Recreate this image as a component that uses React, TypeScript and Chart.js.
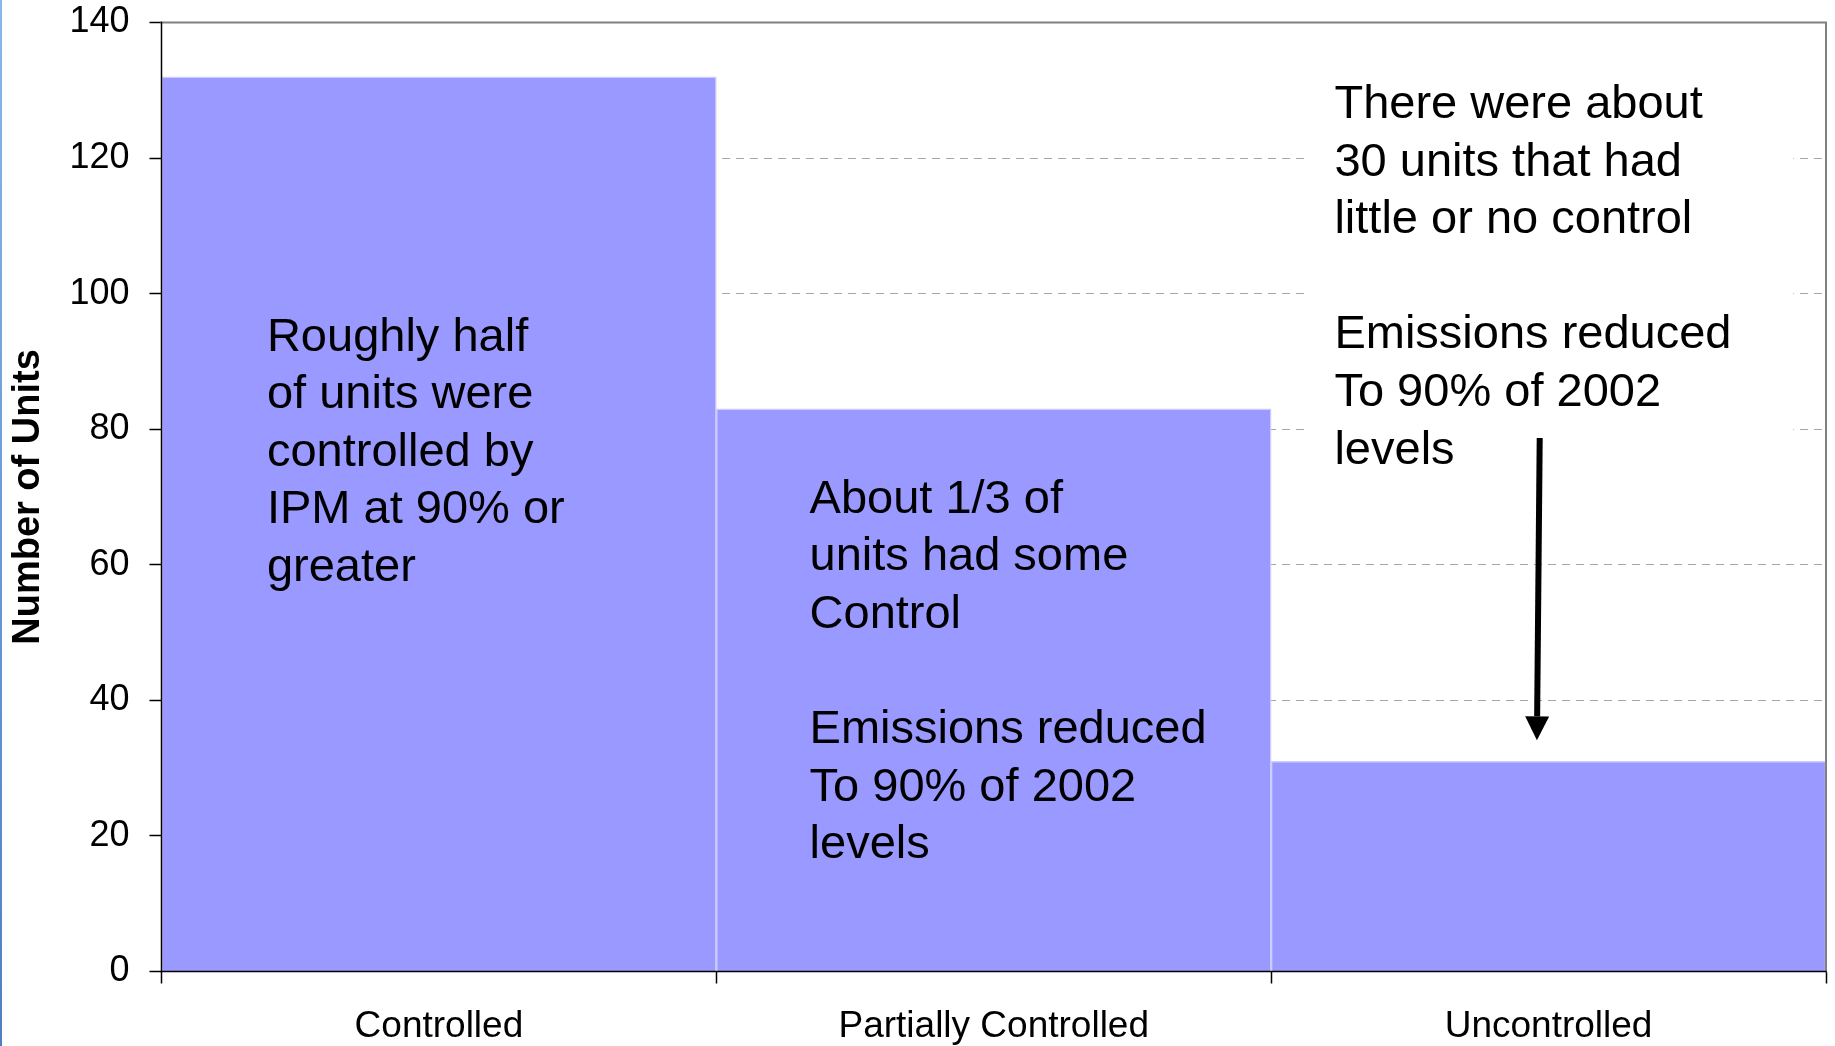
import React, { useEffect, useRef } from 'react';
import { Chart, registerables } from 'chart.js';

Chart.register(...registerables);

// ---- data ----
const categories = ['Controlled', 'Partially Controlled', 'Uncontrolled'];
const unitCounts = [132, 83, 31];
const yMin = 0;
const yMax = 140;
const yStep = 20;
const yAxisTitle = 'Number of Units';

const controlledNote = ['Roughly half', 'of units were', 'controlled by', 'IPM at 90% or', 'greater'];
const partialNote = ['About 1/3 of', 'units had some', 'Control', '', 'Emissions reduced', 'To 90% of 2002', 'levels'];
const uncontrolledNote = ['There were about', '30 units that had', 'little or no control', '', 'Emissions reduced', 'To 90% of 2002', 'levels'];

// Note placement: category index, fraction across the category, value of first baseline
const notes = [
  { cat: 0, frac: 0.19, firstBaseline: 91.6, lines: controlledNote, backing: null },
  { cat: 1, frac: 0.168, firstBaseline: 67.7, lines: partialNote, backing: null },
  { cat: 2, frac: 0.114, firstBaseline: 125.9, lines: uncontrolledNote, backing: { fromFrac: 0.062, toFrac: 0.941, top: 135, bottom: 68 } },
];

// Arrow pointing down at the Uncontrolled bar: category, fraction, values
const arrowNote = { cat: 2, fromFrac: 0.484, toFrac: 0.479, fromValue: 78.7, toValue: 34.1 };

const FONT = "'Liberation Sans', Arial, Helvetica, sans-serif";
const BAR_FILL = '#9999FF';
const BAR_EDGE = '#CCCCFF';
const NOTE_FONT_SIZE = 47;
const NOTE_LINE_HEIGHT = 57.6;

function catX(chart: any, cat: number, frac: number) {
  const x = chart.scales.x;
  const left = x.getPixelForValue(cat - 0.5);
  const right = x.getPixelForValue(cat + 0.5);
  return left + (right - left) * frac;
}

const notesPlugin = {
  id: 'notes',
  afterDatasetsDraw(chart: any) {
    const { ctx, chartArea, scales } = chart;
    const y = scales.y;
    ctx.save();

    // white backing behind notes that sit over gridlines
    for (const n of notes) {
      if (!n.backing) continue;
      const x1 = catX(chart, n.cat, n.backing.fromFrac);
      const x2 = catX(chart, n.cat, n.backing.toFrac);
      const y1 = y.getPixelForValue(n.backing.top);
      const y2 = y.getPixelForValue(n.backing.bottom);
      ctx.fillStyle = '#ffffff';
      ctx.fillRect(x1, y1, x2 - x1, y2 - y1);
    }

    // note text
    ctx.fillStyle = '#000000';
    ctx.font = `${NOTE_FONT_SIZE}px ${FONT}`;
    ctx.textAlign = 'left';
    ctx.textBaseline = 'alphabetic';
    for (const n of notes) {
      const x0 = catX(chart, n.cat, n.frac);
      const y0 = y.getPixelForValue(n.firstBaseline);
      n.lines.forEach((line, i) => {
        if (line) ctx.fillText(line, x0, y0 + i * NOTE_LINE_HEIGHT);
      });
    }

    // arrow
    const ax1 = catX(chart, arrowNote.cat, arrowNote.fromFrac);
    const ax2 = catX(chart, arrowNote.cat, arrowNote.toFrac);
    const ay1 = y.getPixelForValue(arrowNote.fromValue);
    const ay2 = y.getPixelForValue(arrowNote.toValue);
    const headLen = 24;
    const headHalf = 12;
    const ang = Math.atan2(ay2 - ay1, ax2 - ax1);
    const bx = ax2 - headLen * Math.cos(ang);
    const by = ay2 - headLen * Math.sin(ang);
    ctx.strokeStyle = '#000000';
    ctx.lineWidth = 6;
    ctx.lineCap = 'butt';
    ctx.beginPath();
    ctx.moveTo(ax1, ay1);
    ctx.lineTo(bx, by);
    ctx.stroke();
    ctx.fillStyle = '#000000';
    ctx.beginPath();
    ctx.moveTo(ax2, ay2);
    ctx.lineTo(bx + headHalf * Math.sin(ang), by - headHalf * Math.cos(ang));
    ctx.lineTo(bx - headHalf * Math.sin(ang), by + headHalf * Math.cos(ang));
    ctx.closePath();
    ctx.fill();

    // plot frame: grey top/right, black axes left/bottom
    const { left, right, top, bottom } = chartArea;
    ctx.lineCap = 'square';
    ctx.strokeStyle = '#808080';
    ctx.lineWidth = 2;
    ctx.beginPath();
    ctx.moveTo(left, top);
    ctx.lineTo(right, top);
    ctx.lineTo(right, bottom);
    ctx.stroke();
    ctx.strokeStyle = '#000000';
    ctx.lineWidth = 1.5;
    ctx.beginPath();
    ctx.moveTo(left, top);
    ctx.lineTo(left, bottom);
    ctx.lineTo(right, bottom);
    ctx.stroke();

    ctx.restore();
  },
};

export default function App() {
  const canvasRef = useRef<HTMLCanvasElement | null>(null);

  useEffect(() => {
    const canvas = canvasRef.current;
    if (!canvas) return;
    const chart = new Chart(canvas, {
      type: 'bar',
      data: {
        labels: categories,
        datasets: [
          {
            data: unitCounts,
            backgroundColor: BAR_FILL,
            borderColor: BAR_EDGE,
            borderWidth: 1.5,
            barPercentage: 1,
            categoryPercentage: 1,
          },
        ],
      },
      options: {
        responsive: false,
        animation: false,
        devicePixelRatio: 1,
        layout: { padding: { left: 0, top: 22.5, right: 9, bottom: 0 } },
        plugins: {
          legend: { display: false },
          tooltip: { enabled: false },
          title: { display: false },
        },
        scales: {
          x: {
            type: 'category',
            offset: true,
            grid: {
              display: true,
              offset: true,
              drawOnChartArea: false,
              drawTicks: true,
              tickLength: 12,
              tickColor: '#000000',
              tickWidth: 1.5,
            },
            border: { display: false },
            ticks: {
              color: '#000000',
              font: { family: FONT, size: 37 },
              padding: 21,
              maxRotation: 0,
              autoSkip: false,
            },
            afterFit(scale: any) {
              scale.height = 74.5;
              scale.paddingLeft = 0;
              scale.paddingRight = 0;
            },
          },
          y: {
            min: yMin,
            max: yMax,
            grid: {
              color: (ctx: any) =>
                ctx.tick && (ctx.tick.value === yMin || ctx.tick.value === yMax) ? 'rgba(0,0,0,0)' : '#a6a6a6',
              lineWidth: 1,
              drawTicks: true,
              tickLength: 12,
              tickColor: '#000000',
              tickWidth: 1.5,
              tickBorderDash: [],
            },
            border: { display: false, dash: [8, 6] },
            ticks: {
              stepSize: yStep,
              color: '#000000',
              font: { family: FONT, size: 36 },
              padding: 20,
            },
            title: {
              display: true,
              text: yAxisTitle,
              color: '#000000',
              font: { family: FONT, size: 38, weight: 'bold' },
              padding: { top: 6, bottom: 0 },
            },
            afterFit(scale: any) {
              scale.width = 161.5;
              scale.paddingTop = 0;
              scale.paddingBottom = 0;
            },
          },
        },
      },
      plugins: [notesPlugin],
    });
    return () => chart.destroy();
  }, []);

  return (
    <div
      style={{
        position: 'fixed',
        left: 0,
        top: 0,
        width: 1835,
        height: 1046,
        background: '#ffffff',
        overflow: 'hidden',
      }}
    >
      <canvas ref={canvasRef} width={1835} height={1046} style={{ display: 'block', width: 1835, height: 1046 }} />
      <div
        style={{
          position: 'absolute',
          left: 0,
          top: 0,
          width: 2,
          height: 1046,
          background: 'linear-gradient(#8ab6ee, #4f7fc0)',
        }}
      />
    </div>
  );
}
